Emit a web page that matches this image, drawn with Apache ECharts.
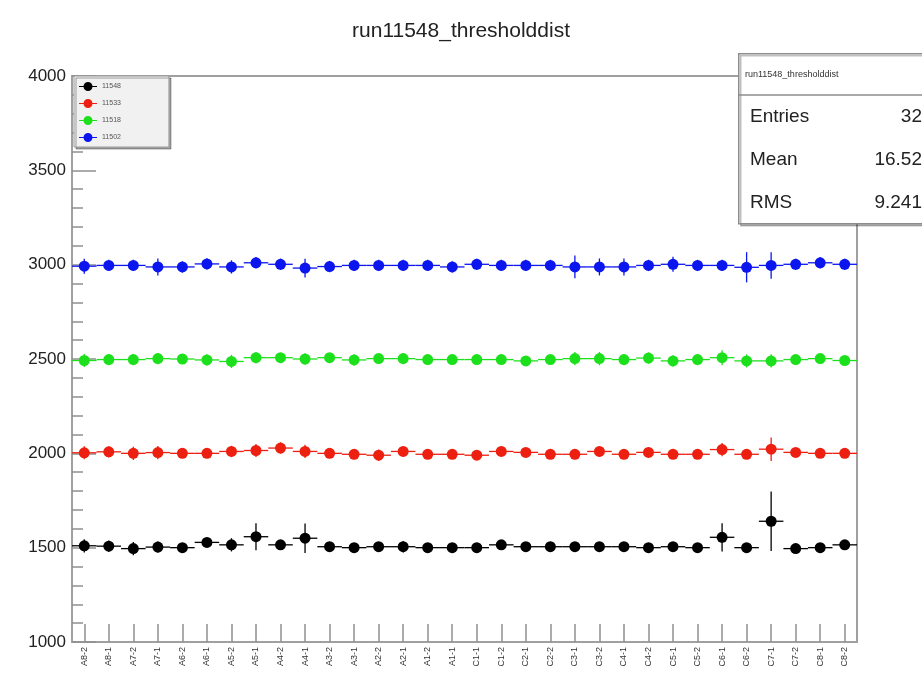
<!doctype html>
<html>
<head>
<meta charset="utf-8">
<script src="https://cdn.jsdelivr.net/npm/echarts@6/dist/echarts.min.js"></script>
<style>
  html, body { margin: 0; padding: 0; background: #fff; }
  #main { width: 922px; height: 683px; }
</style>
</head>
<body>
<div id="main"></div>
<script>
var chartTitle = 'run11548_thresholddist';

var channels = ['A8-2','A8-1','A7-2','A7-1','A6-2','A6-1','A5-2','A5-1','A4-2','A4-1','A3-2','A3-1','A2-2','A2-1','A1-2','A1-1',
                'C1-1','C1-2','C2-1','C2-2','C3-1','C3-2','C4-1','C4-2','C5-1','C5-2','C6-1','C6-2','C7-1','C7-2','C8-1','C8-2'];

var runNames = ['11548', '11533', '11518', '11502'];

// threshold values per channel
var run11548 = [1510,1508,1495,1503,1500,1528,1515,1558,1515,1550,1505,1500,1505,1505,1500,1500,
                1500,1515,1505,1505,1505,1505,1505,1500,1505,1500,1555,1500,1640,1495,1500,1515];
var run11533 = [2003,2008,2000,2004,2000,2000,2010,2015,2028,2010,2000,1995,1990,2010,1995,1995,
                1990,2010,2005,1995,1995,2010,1995,2005,1995,1995,2020,1995,2022,2005,2000,2000];
var run11518 = [2492,2497,2497,2502,2500,2495,2487,2507,2507,2500,2507,2495,2502,2502,2497,2497,
                2497,2497,2490,2497,2502,2502,2497,2505,2490,2497,2507,2490,2490,2497,2502,2492];
var run11502 = [2992,2996,2996,2988,2988,3004,2988,3010,3002,2982,2990,2996,2996,2996,2996,2988,
                3002,2996,2996,2996,2988,2988,2988,2996,3002,2996,2996,2986,2996,3002,3010,3002];

// vertical error bars
var err11548 = [35,30,35,30,25,25,35,72,25,78,25,20,25,30,25,25,
                20,25,20,20,20,20,20,20,20,20,75,20,158,20,20,25];
var err11533 = [35,30,35,35,25,25,30,35,30,35,25,25,30,25,25,25,
                25,25,25,25,25,25,25,25,25,25,35,25,62,25,25,25];
var err11518 = [35,30,30,30,25,30,35,30,25,30,25,30,25,30,25,25,
                25,25,25,25,35,35,30,30,30,30,40,35,35,25,25,25];
var err11502 = [40,30,30,45,30,30,35,30,30,50,30,30,30,30,30,30,
                30,30,30,30,60,45,45,30,40,30,30,80,70,30,30,30];

var yTicks = [1000, 1500, 2000, 2500, 3000, 3500, 4000];

var statLabels = ['Entries', 'Mean', 'RMS'];
var statValues = ['32', '16.52', '9.241'];

var colors = ['#000000', '#ec1f10', '#1de01d', '#0b16ee'];
var values = [run11548, run11533, run11518, run11502];
var errors = [err11548, err11533, err11518, err11502];

var font = '"Liberation Sans", Arial, Helvetica, sans-serif';
var legendIcon = 'path://M0,4.4H20V5.6H0Z M10,0A5,5 0 1 1 10,10A5,5 0 1 1 10,0Z';

function errBars(color) {
	return function (params, api) {
		var i = api.value(0), v = api.value(1), e = api.value(2);
		var c = api.coord([i, v]);
		var top = api.coord([i, v + e]);
		var bot = api.coord([i, v - e]);
		var hw = api.size([1, 0])[0] / 2;
		var st = { stroke: color, lineWidth: 1.3 };
		return {
			type: 'group',
			children: [
				{ type: 'line', shape: { x1: c[0] - hw, y1: c[1], x2: c[0] + hw, y2: c[1] }, style: st },
				{ type: 'line', shape: { x1: c[0], y1: top[1], x2: c[0], y2: bot[1] }, style: st }
			]
		};
	};
}

var series = [];
for (var k = 0; k < runNames.length; k++) {
	var errData = [], ptData = [];
	for (var i = 0; i < channels.length; i++) {
		errData.push([i, values[k][i], errors[k][i]]);
		ptData.push([i, values[k][i]]);
	}
	series.push({
		name: runNames[k] + ' err',
		type: 'custom',
		renderItem: errBars(colors[k]),
		data: errData,
		encode: { x: 0, y: 1 },
		z: 2,
		silent: true
	});
	series.push({
		name: runNames[k],
		type: 'scatter',
		data: ptData,
		symbol: 'circle',
		symbolSize: 11,
		itemStyle: { color: colors[k], opacity: 1 },
		z: 3
	});
}

var stats = [];
for (var s = 0; s < statLabels.length; s++) {
	stats.push({ type: 'text', left: 750, top: 107 + s * 43,
		style: { text: statLabels[s], font: '19px ' + font, fill: '#222' }, z: 21 });
	stats.push({ type: 'text', right: 0, top: 107 + s * 43,
		style: { text: statValues[s], font: '19px ' + font, fill: '#222', textAlign: 'right' }, z: 21 });
}

var chart = echarts.init(document.getElementById('main'));
chart.setOption({
	backgroundColor: '#ffffff',
	animation: false,
	title: {
		text: chartTitle,
		left: 'center',
		top: 16,
		textStyle: { fontFamily: font, fontSize: 21, fontWeight: 'normal', color: '#222' }
	},
	legend: {
		data: runNames.map(function (n) { return { name: n, icon: legendIcon }; }),
		orient: 'vertical',
		left: 74,
		top: 76,
		itemWidth: 18,
		itemHeight: 10,
		itemGap: 8,
		padding: [6, 48, 5, 5],
		backgroundColor: '#f1f1f1',
		borderColor: '#9a9a9a',
		borderWidth: 1,
		shadowColor: 'rgba(0,0,0,0.35)',
		shadowOffsetX: 2,
		shadowOffsetY: 2,
		textStyle: { fontFamily: font, fontSize: 7, color: '#555' }
	},
	grid: {
		left: 72, right: 65, top: 76, bottom: 41,
		show: true,
		borderColor: '#a0a0a0',
		borderWidth: 2,
		backgroundColor: '#ffffff'
	},
	xAxis: {
		type: 'category',
		data: channels,
		boundaryGap: true,
		axisLine: { show: false },
		axisTick: { show: true, inside: true, length: 18, alignWithLabel: true, interval: 0,
			lineStyle: { color: '#909090', width: 1.5 } },
		axisLabel: { interval: 0, rotate: 90, margin: 5, fontFamily: font, fontSize: 9, color: '#333' },
		splitLine: { show: false }
	},
	yAxis: {
		type: 'value',
		min: yTicks[0],
		max: yTicks[yTicks.length - 1],
		interval: 500,
		axisLine: { show: false },
		axisTick: { show: true, inside: true, length: 24, lineStyle: { color: '#909090', width: 1.5 } },
		minorTick: { show: true, splitNumber: 5, length: 11, lineStyle: { color: '#909090', width: 1.5 } },
		axisLabel: { margin: 6, fontFamily: font, fontSize: 17, color: '#222',
			formatter: function (v) { return String(v); } },
		splitLine: { show: false }
	},
	graphic: [
		{ type: 'rect', left: 738, top: 53, z: 20,
			shape: { width: 200, height: 170 },
			style: { fill: '#ffffff', stroke: '#8c8c8c', lineWidth: 1.5,
				shadowColor: 'rgba(0,0,0,0.25)', shadowOffsetX: 2, shadowOffsetY: 2 } },
		{ type: 'line', z: 21, shape: { x1: 738, y1: 95, x2: 922, y2: 95 },
			style: { stroke: '#8c8c8c', lineWidth: 1.5 } },
		{ type: 'text', left: 745, top: 70, z: 21,
			style: { text: chartTitle, font: '9px ' + font, fill: '#333' } }
	].concat(stats),
	series: series
});
</script>
</body>
</html>
